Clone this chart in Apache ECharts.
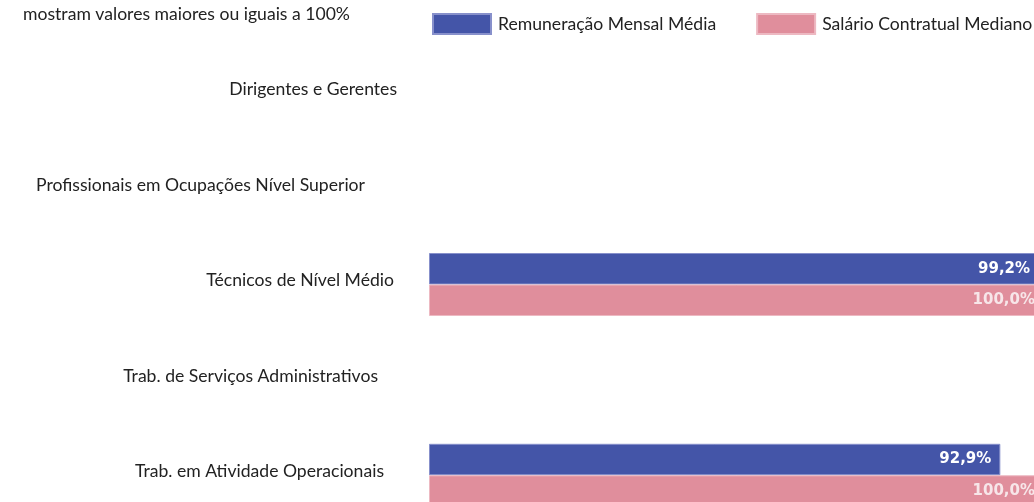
<!DOCTYPE html>
<html><head><meta charset="utf-8">
<style>html,body{margin:0;padding:0;overflow:hidden;background:#fff;width:1034px;height:502px}#c{width:1044px;height:523px}</style>
<script src="https://cdn.jsdelivr.net/npm/echarts@6/dist/echarts.min.js"></script>
</head><body><div id="c"></div>
<script>
const categories = ['Dirigentes e Gerentes','Profissionais em Ocupações Nível Superior','Técnicos de Nível Médio','Trab. de Serviços Administrativos','Trab. em Atividade Operacionais'];
const seriesNames = ['Remuneração Mensal Média','Salário Contratual Mediano'];
const remuneracao = [null, null, 99.2, null, 92.9];
const salario = [null, null, 100.0, null, 100.0];
const noteText = 'mostram valores maiores ou iguais a 100%';
// layout: distance of each category label's right edge from the axis
const labelGaps = [32, 64, 35, 51, 45];

const FONT = 'Lato';
const FS = 17.6;
const rich = {};
labelGaps.forEach((g,i)=>{ rich['g'+i] = {fontFamily:FONT,fontSize:FS,color:'#222',padding:[0,g,8,0]}; });
const chart = echarts.init(document.getElementById('c'), null, {renderer:'canvas'});
const fmt = p => p.value == null ? '' : p.value.toFixed(1).replace('.', ',') + '%';
chart.setOption({
  animation:false,
  title:{text:noteText,left:23,top:5,padding:0,textStyle:{fontFamily:FONT,fontSize:FS,fontWeight:'normal',color:'#222'}},
  legend:{top:13,left:432,padding:0,itemWidth:58,itemHeight:20,itemGap:40,icon:'rect',
    textStyle:{fontFamily:FONT,fontSize:FS,color:'#222',padding:[0,0,0,2]},
    data:seriesNames},
  grid:{left:429,right:0,top:46,bottom:0},
  xAxis:{type:'value',min:0,max:100,show:false},
  yAxis:{type:'category',inverse:true,data:categories,
    axisLine:{show:false},axisTick:{show:false},
    axisLabel:{margin:0,fontFamily:FONT,fontSize:FS,color:'#222',rich:rich,
      formatter:(v,i)=>'{g'+i+'|'+v+'}'}},
  series:[
    {name:seriesNames[0],type:'bar',data:remuneracao,barWidth:31.5,barGap:'0%',
     itemStyle:{color:'#4455A8',borderColor:'#8790CB',borderWidth:1},
     label:{show:true,position:'insideRight',distance:9,formatter:fmt,color:'#fff',fontFamily:'DejaVu Sans',fontSize:15,fontWeight:'bold'}},
    {name:seriesNames[1],type:'bar',data:salario,barWidth:31.5,
     itemStyle:{color:'#E08E9C',borderColor:'#EDB9C2',borderWidth:1},
     label:{show:true,position:'insideRight',distance:9,formatter:fmt,color:'#F7E6E9',fontFamily:'DejaVu Sans',fontSize:15,fontWeight:'bold'}}
  ]
});
</script></body></html>
